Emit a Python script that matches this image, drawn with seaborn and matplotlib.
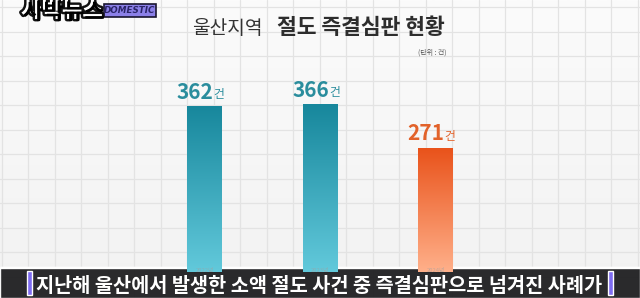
import numpy as np
import pandas as pd
import matplotlib
matplotlib.use("Agg")
import matplotlib.pyplot as plt
import matplotlib.patheffects as pe
from matplotlib.patches import Rectangle
import seaborn as sns

# ---- data ----
years = ["2022년", "2023년", "2024년"]
cases = [362, 366, 271]
label_unit = "건"
title_regular = "울산지역"
title_bold = "절도 즉결심판 현황"
unit_note = "(단위 : 건)"
subtitle = "지난해 울산에서 발생한 소액 절도 사건 중 즉결심판으로 넘겨진 사례가"
logo_text = "사박뉴스"
badge_text = "DOMESTIC"
bar_colors = ["#2a9fb3", "#2a9fb3", "#f0692c"]
grad_top = ["#17879c", "#17879c", "#e9521a"]
grad_bot = ["#62c9db", "#62c9db", "#ffb08a"]
label_colors = ["#2a8d9d", "#2a8d9d", "#e2622a"]

sns.set_theme(style="white")
plt.rcParams["font.family"] = ["Noto Sans CJK KR", "DejaVu Sans"]

W, H = 640, 298
fig = plt.figure(figsize=(W / 100, H / 100), dpi=100)
fig.patch.set_facecolor("#f6f6f6")

def fx(x):
    return x / W

def fy(y):
    return 1 - y / H

# background grid axes
bg = fig.add_axes([0, 0, 1, 1], zorder=0)
bg.set_xlim(0, W)
bg.set_ylim(H, 0)
bg.axis("off")
grad = np.linspace(0, 1, 100).reshape(-1, 1)
bg.imshow(grad, extent=(0, W, H, 0), cmap=matplotlib.colors.LinearSegmentedColormap.from_list(
    "bgc", ["#fbfbfb", "#f2f2f2"]), aspect="auto", zorder=0)
for gx in np.arange(240 - 26.5 * 9, W, 26.5):
    bg.axvline(gx, color="#e3e3e3", lw=0.9, zorder=1)
for gy in np.arange(252 - 24.5 * 10, H, 24.5):
    bg.axhline(gy, color="#e3e3e3", lw=0.9, zorder=1)

# bar axes: full figure, data mapped to pixel layout
ax = fig.add_axes([0, 0, 1, 1], zorder=12)
ax.patch.set_alpha(0)
df = pd.DataFrame({"year": years, "cases": cases})
sns.barplot(data=df, x="year", y="cases", hue="year", palette=bar_colors,
            legend=False, width=0.30, ax=ax, saturation=1)
px_per_unit_x = 115.5
x0_px = 204.5
base_px = 272
ppu = 166 / 362

# gradient fill for bars
for i, p in enumerate(ax.patches):
    x, y = p.get_x(), p.get_y()
    w, h = p.get_width(), p.get_height()
    cmap = matplotlib.colors.LinearSegmentedColormap.from_list("g%d" % i, [grad_bot[i], grad_top[i]])
    g = np.linspace(0, 1, 200).reshape(-1, 1)
    im = ax.imshow(g, extent=(x, x + w, y, y + h), origin="lower", cmap=cmap,
                   aspect="auto", zorder=3)
    im.set_clip_path(p)
    p.set_edgecolor("none")

ax.set_xlim(-x0_px / px_per_unit_x, (W - x0_px) / px_per_unit_x)
ax.set_ylim(-(H - base_px) / ppu, base_px / ppu)
ax.axis("off")

# value labels
for i, v in enumerate(cases):
    ax.annotate(str(v), xy=(i, v), xytext=(6.5, 2.5), textcoords="offset points",
                ha="right", va="bottom", fontsize=15, fontweight="bold",
                color=label_colors[i], zorder=5)
    ax.annotate(label_unit, xy=(i, v), xytext=(6.5, 3.5), textcoords="offset points",
                ha="left", va="bottom", fontsize=8.5, color=label_colors[i], zorder=5)

# title
fig.text(fx(192), fy(28), title_regular, fontsize=13.8, color="#333333",
         ha="left", va="center")
fig.text(fx(277), fy(28), title_bold, fontsize=15.5, color="#2d2d2d",
         fontweight="bold", ha="left", va="center")
fig.text(fx(447), fy(53), unit_note, fontsize=5, color="#555555",
         ha="right", va="center")

# subtitle dark band
fig.patches.append(Rectangle((0, 0), 1, fy(267), transform=fig.transFigure,
                             facecolor="#1b1b1d", alpha=0.93, zorder=10))
fig.patches.append(Rectangle((0, fy(268)), 1, 1.2 / H, transform=fig.transFigure,
                             facecolor="#6a6a6a", zorder=11))
# faint year labels at the top edge of the band
for i, yr in enumerate(years):
    ax.annotate(yr, xy=(i, 0), xytext=(0, 3.0), textcoords="offset points",
                ha="center", va="top", fontsize=4.2, color="#a0a0a0", alpha=0.6,
                zorder=12, annotation_clip=False)
# purple accents
fig.patches.append(Rectangle((fx(27), fy(295)), 4.5 / W, 24 / H, transform=fig.transFigure,
                             facecolor="#7e6cf2", zorder=13))
fig.patches.append(Rectangle((fx(608), fy(295)), 4.5 / W, 24 / H, transform=fig.transFigure,
                             facecolor="#7e6cf2", zorder=13))
fig.text(fx(36), fy(286), subtitle, fontsize=14.2, fontweight="bold",
         color="white", ha="left", va="center", zorder=14)

# logo
fig.text(fx(21), fy(17), logo_text, fontsize=16, fontweight="bold", color="white",
         ha="left", va="baseline", zorder=14,
         path_effects=[pe.withStroke(linewidth=3.5, foreground="#111111"),
                       pe.SimplePatchShadow(offset=(1.5, -1.5), shadow_rgbFace="#000000", alpha=1)])
fig.patches.append(Rectangle((fx(104), fy(17)), 52 / W, 13 / H, transform=fig.transFigure,
                             facecolor="#8b80e8", edgecolor="#1a1630", lw=1.2, zorder=13))
fig.text(fx(130), fy(10.5), badge_text, fontsize=6.3, fontweight="bold", style="italic",
         color="#2a2468", ha="center", va="center", zorder=14, family="DejaVu Sans")

fig.savefig("out.png", dpi=100, facecolor=fig.get_facecolor())
